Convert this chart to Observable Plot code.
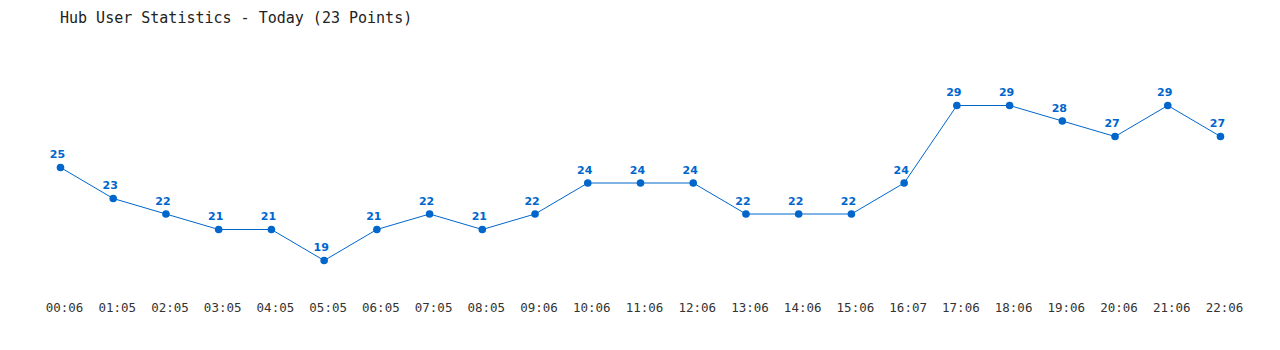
<!DOCTYPE html>
<html>
<head>
<meta charset="utf-8">
<script src="https://cdn.jsdelivr.net/npm/d3@7"></script>
<script src="https://cdn.jsdelivr.net/npm/@observablehq/plot@0.6"></script>
<style>
  html, body { margin: 0; padding: 0; background: #fff; }
  #title { height: 36px; box-sizing: border-box; padding: 9px 0 0 60px; font: 15px "DejaVu Sans Mono", "Liberation Mono", monospace; color: #222; line-height: 18px; }
</style>
</head>
<body>
<div id="title">Hub User Statistics - Today (23 Points)</div>
<div id="chart"></div>
<script>
const times = ["00:06","01:05","02:05","03:05","04:05","05:05","06:05","07:05","08:05","09:06","10:06","11:06","12:06","13:06","14:06","15:06","16:07","17:06","18:06","19:06","20:06","21:06","22:06"];
const users = [25,23,22,21,21,19,21,22,21,22,24,24,24,22,22,22,24,29,29,28,27,29,27];

const data = times.map((t, i) => ({time: t, users: users[i]}));
const blue = "#0066cc";

const chart = Plot.plot({
  width: 1280,
  height: 314,
  marginLeft: 60,
  marginRight: 60,
  marginTop: 69,
  marginBottom: 90,
  style: {fontFamily: "'DejaVu Sans Mono', 'Liberation Mono', monospace", background: "#fff"},
  x: {type: "point", domain: times, padding: 0, round: false, label: null},
  y: {domain: [19, 29], axis: null},
  marks: [
    Plot.axisX({tickSize: 0, tickPadding: 43, dx: 4, fontSize: 12.5, fill: "#333", stroke: null, label: null}),
    Plot.line(data, {x: "time", y: "users", stroke: blue, strokeWidth: 1}),
    Plot.dot(data, {x: "time", y: "users", r: 3.8, fill: blue, stroke: null}),
    Plot.text(data, {x: "time", y: "users", text: d => String(d.users), dy: -13, dx: -3, fill: blue, fontWeight: "bold", fontSize: 11, fontFamily: "'DejaVu Sans', Verdana, sans-serif"})
  ]
});
document.getElementById("chart").appendChild(chart);
</script>
</body>
</html>
